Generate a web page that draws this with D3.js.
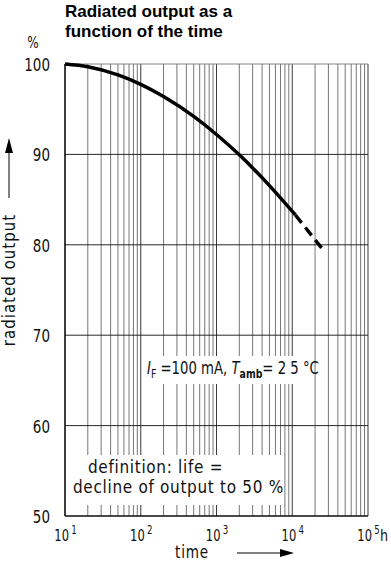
<!DOCTYPE html>
<html>
<head>
<meta charset="utf-8">
<script src="https://cdn.jsdelivr.net/npm/d3@7"></script>
<style>
  body { margin: 0; background: #fff; }
  svg { display: block; }
  .lbl { font-family: "DejaVu Sans", sans-serif; fill: #111; }
</style>
</head>
<body>
<svg width="391" height="572"></svg>
<script>
// datos
const timeSolid = [10, 20, 50, 100, 200, 500, 1000, 2000, 5000, 11000];
const outputSolid = [100, 99.7, 98.8, 97.75, 96.4, 94.2, 92.2, 89.95, 86.55, 83.3];
const timeDashed = [11000, 27000];
const outputDashed = [83.3, 79.2];
const yTicks = [50, 60, 70, 80, 90, 100];
const xDecades = [1e1, 1e2, 1e3, 1e4, 1e5];
const xExponents = ["1", "2", "3", "4", "5"];

const svg = d3.select("svg");
const x = d3.scaleLog().domain([10, 1e5]).range([65, 368]);
const y = d3.scaleLinear().domain([50, 100]).range([516, 64]);

// letra estrecha: escalar en horizontal alrededor del punto de anclaje
function narrow(sel, ax, ay, k) {
  sel.attr("transform", `translate(${ax},${ay}) scale(${k},1) translate(${-ax},${-ay})`);
}

// titulo
svg.append("text").attr("x", 65).attr("y", 17)
  .attr("font-family", "Liberation Sans, Arial, sans-serif").attr("font-weight", "bold")
  .attr("font-size", 17).text("Radiated output as a");
svg.append("text").attr("x", 65).attr("y", 37)
  .attr("font-family", "Liberation Sans, Arial, sans-serif").attr("font-weight", "bold")
  .attr("font-size", 17).text("function of the time");

// rejilla vertical (log)
svg.append("g").selectAll("line").data(x.ticks())
  .join("line")
  .attr("x1", d => x(d)).attr("x2", d => x(d))
  .attr("y1", y(100)).attr("y2", y(50))
  .attr("stroke", d => xDecades.includes(d) ? "#222" : "#666")
  .attr("stroke-width", 0.9);

// rejilla horizontal
svg.append("g").selectAll("line").data(yTicks)
  .join("line")
  .attr("x1", x(10)).attr("x2", x(1e5))
  .attr("y1", d => y(d)).attr("y2", d => y(d))
  .attr("stroke", d => d === 100 ? "#777" : "#111")
  .attr("stroke-width", 0.9);

// bordes
svg.append("line").attr("x1", x(10)).attr("x2", x(10)).attr("y1", y(100)).attr("y2", y(50))
  .attr("stroke", "#000").attr("stroke-width", 1.2);
svg.append("line").attr("x1", x(10)).attr("x2", x(1e5)).attr("y1", y(50)).attr("y2", y(50))
  .attr("stroke", "#000").attr("stroke-width", 1.2);

// cajas blancas detras de las anotaciones
svg.append("rect").attr("x", 145).attr("y", 356).attr("width", 160).attr("height", 28).attr("fill", "#fff");
svg.append("rect").attr("x", 66.5).attr("y", 455).attr("width", 216).attr("height", 50).attr("fill", "#fff");

// curva
const line = d3.line().x(d => x(d[0])).y(d => y(d[1])).curve(d3.curveMonotoneX);
svg.append("path")
  .datum(timeSolid.map((t, i) => [t, outputSolid[i]]))
  .attr("d", line).attr("fill", "none").attr("stroke", "#000").attr("stroke-width", 3.5);
svg.append("path")
  .datum(timeDashed.map((t, i) => [t, outputDashed[i]]))
  .attr("d", line).attr("fill", "none").attr("stroke", "#000").attr("stroke-width", 3.5)
  .attr("stroke-dasharray", "10,6");

// eje y
const yAxis = svg.append("g").attr("transform", `translate(${x(10)},0)`)
  .call(d3.axisLeft(y).tickValues(yTicks).tickSize(0));
yAxis.select(".domain").remove();
yAxis.selectAll("text").attr("class", "lbl").attr("font-size", 18)
  .attr("x", 0).attr("dy", "0.36em")
  .attr("transform", "translate(-15,0) scale(0.75,1)");
const pct = svg.append("text").attr("class", "lbl").attr("x", 33).attr("y", 48)
  .attr("text-anchor", "middle").attr("font-size", 15).text("%");
narrow(pct, 33, 48, 0.8);

// eje x
const xAxis = svg.append("g").attr("transform", `translate(0,${y(50)})`)
  .call(d3.axisBottom(x).tickValues(xDecades).tickSize(0).tickFormat(""));
xAxis.select(".domain").remove();
xAxis.selectAll(".tick text").each(function(d, i) {
  const t = d3.select(this).attr("class", "lbl").attr("font-size", 16)
    .attr("y", 25).attr("dy", 0).attr("transform", "scale(0.72,1)");
  t.append("tspan").text("10");
  t.append("tspan").attr("font-size", 12).attr("dy", -7).attr("dx", 3).text(xExponents[i]);
});
const hLbl = svg.append("text").attr("class", "lbl").attr("x", 380).attr("y", 541)
  .attr("font-size", 16).text("h");
narrow(hLbl, 380, 541, 0.8);

// titulos de ejes
const tLbl = svg.append("text").attr("class", "lbl").attr("x", 192).attr("y", 558)
  .attr("text-anchor", "middle").attr("font-size", 17).attr("letter-spacing", 1).text("time");
narrow(tLbl, 192, 558, 0.8);
svg.append("line").attr("x1", 237).attr("x2", 282).attr("y1", 553).attr("y2", 553)
  .attr("stroke", "#000").attr("stroke-width", 1);
svg.append("path").attr("d", "M280,549 L294,553 L280,557 Z").attr("fill", "#000");

svg.append("text").attr("class", "lbl")
  .attr("transform", "translate(15,280) rotate(-90) scale(0.88,1)")
  .attr("text-anchor", "middle").attr("font-size", 17).attr("letter-spacing", 1.2).text("radiated  output");
svg.append("line").attr("x1", 9).attr("x2", 9).attr("y1", 198).attr("y2", 150)
  .attr("stroke", "#000").attr("stroke-width", 1);
svg.append("path").attr("d", "M5,153 L9,138 L13,153 Z").attr("fill", "#000");

// anotaciones
const a1 = svg.append("text").attr("class", "lbl").attr("x", 147).attr("y", 374).attr("font-size", 17);
a1.append("tspan").attr("font-style", "italic").text("I");
a1.append("tspan").attr("font-size", 12).attr("dy", 4).text("F");
a1.append("tspan").attr("dy", -4).text(" =100 mA, ");
a1.append("tspan").attr("font-style", "italic").text("T");
a1.append("tspan").attr("font-size", 12).attr("font-weight", "bold").attr("dy", 4).text("amb");
a1.append("tspan").attr("dy", -4).text("= 2 5 °C");
narrow(a1, 147, 374, 0.78);

const d1 = svg.append("text").attr("class", "lbl").attr("x", 88).attr("y", 473)
  .attr("font-size", 18).attr("letter-spacing", 0.8).text("definition:  life =");
narrow(d1, 88, 473, 0.85);
const d2 = svg.append("text").attr("class", "lbl").attr("x", 73).attr("y", 493)
  .attr("font-size", 18).attr("letter-spacing", 0.8).text("decline of output to 50 %");
narrow(d2, 73, 493, 0.85);
</script>
</body>
</html>
